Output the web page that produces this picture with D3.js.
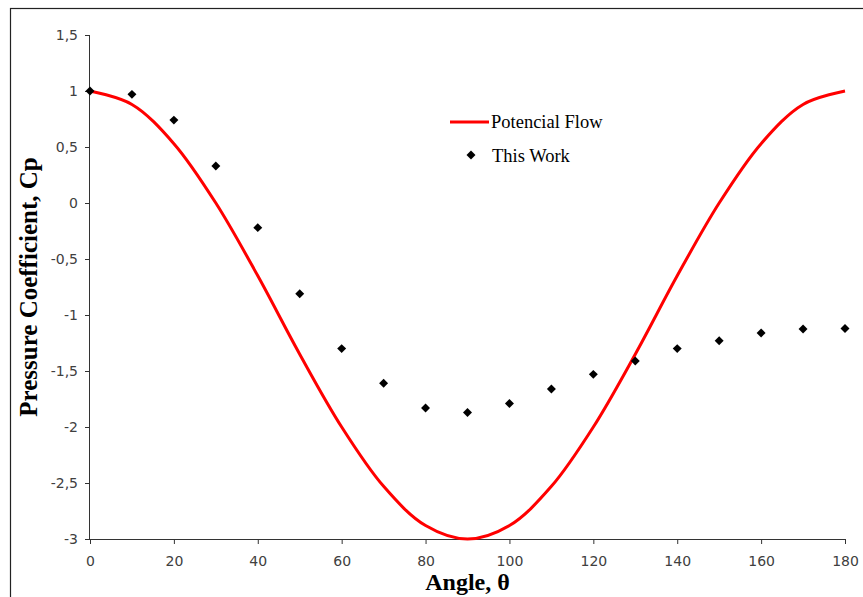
<!DOCTYPE html>
<html>
<head>
<meta charset="utf-8">
<script src="https://cdn.jsdelivr.net/npm/d3@7"></script>
<style>
  body { margin: 0; background: #fff; }
  svg { display: block; }
</style>
</head>
<body>
<script>
// angles every 10 degrees
const angles = [0, 10, 20, 30, 40, 50, 60, 70, 80, 90, 100, 110, 120, 130, 140, 150, 160, 170, 180];
// potencial flow curve
const potentialCp = [1, 0.88, 0.53, 0, -0.65, -1.35, -2, -2.53, -2.88, -3, -2.88, -2.53, -2, -1.35, -0.65, 0, 0.53, 0.88, 1];
// "This Work" markers
const workCp = [1, 0.97, 0.74, 0.33, -0.22, -0.81, -1.30, -1.61, -1.83, -1.87, -1.79, -1.66, -1.53, -1.41, -1.30, -1.23, -1.16, -1.125, -1.12];
const xTicks = [0, 20, 40, 60, 80, 100, 120, 140, 160, 180];
const yTicks = [-3, -2.5, -2, -1.5, -1, -0.5, 0, 0.5, 1, 1.5];

const width = 863, height = 597;
const margin = {top: 35, right: 18, bottom: 58, left: 90};

const svg = d3.select("body").append("svg")
  .attr("width", width)
  .attr("height", height);

// chart frame (only left/top edges visible in the crop)
svg.append("rect")
  .attr("x", 10.5).attr("y", 8.5)
  .attr("width", 1000).attr("height", 1000)
  .attr("fill", "none")
  .attr("stroke", "#222")
  .attr("stroke-width", 1.2);

const x = d3.scaleLinear().domain([0, 180]).range([margin.left, width - margin.right]);
const y = d3.scaleLinear().domain([-3, 1.5]).range([height - margin.bottom, margin.top]);

const fmt = d => String(d).replace(".", ",");

const xAxis = svg.append("g")
  .attr("transform", `translate(0,${y(-3)})`)
  .call(d3.axisBottom(x).tickValues(xTicks).tickSize(5).tickPadding(12).tickFormat(d => d));

const yAxis = svg.append("g")
  .attr("transform", `translate(${x(0)},0)`)
  .call(d3.axisLeft(y).tickValues(yTicks).tickSize(5).tickPadding(7).tickFormat(fmt));

[xAxis, yAxis].forEach(g => {
  g.select(".domain").attr("stroke", "#333").attr("stroke-width", 1);
  g.selectAll(".tick line").attr("stroke", "#333");
  g.selectAll(".tick text")
    .style("font-family", "'DejaVu Sans', sans-serif")
    .style("font-size", "14px")
    .attr("fill", "#404040");
});
// axis lines without the end caps
xAxis.select(".domain").attr("d", `M${x(0)},0.5H${x(180)}`);
yAxis.select(".domain").attr("d", `M-0.5,${y(1.5)}V${y(-3)}`);

// potential flow line
const line = d3.line()
  .x((d, i) => x(angles[i]))
  .y(d => y(d))
  .curve(d3.curveCatmullRom.alpha(0.5));

svg.append("path")
  .datum(potentialCp)
  .attr("d", line)
  .attr("fill", "none")
  .attr("stroke", "#ff0000")
  .attr("stroke-width", 3);

// diamond markers
const diamond = d3.symbol().type(d3.symbolSquare).size(40);
svg.append("g").selectAll("path")
  .data(workCp)
  .join("path")
  .attr("d", diamond)
  .attr("transform", (d, i) => `translate(${x(angles[i])},${y(d)}) rotate(45)`)
  .attr("fill", "#000");

// axis titles
const serif = "'Liberation Serif', 'Times New Roman', serif";
svg.append("text")
  .attr("x", (x(0) + x(180)) / 2)
  .attr("y", 590)
  .attr("text-anchor", "middle")
  .style("font-family", serif)
  .style("font-weight", "bold")
  .style("font-size", "24px")
  .text("Angle, θ");

svg.append("text")
  .attr("transform", `translate(37,${(y(1.5) + y(-3)) / 2}) rotate(-90)`)
  .attr("text-anchor", "middle")
  .style("font-family", serif)
  .style("font-weight", "bold")
  .style("font-size", "25px")
  .text("Pressure Coefficient, Cp");

// legend
const legend = svg.append("g")
  .style("font-family", serif)
  .style("font-size", "18.5px");

legend.append("line")
  .attr("x1", 450).attr("x2", 489)
  .attr("y1", 122).attr("y2", 122)
  .attr("stroke", "#ff0000")
  .attr("stroke-width", 3);
legend.append("text")
  .attr("x", 491).attr("y", 128)
  .text("Potencial Flow");

legend.append("path")
  .attr("d", diamond)
  .attr("transform", "translate(471,155) rotate(45)")
  .attr("fill", "#000");
legend.append("text")
  .attr("x", 492).attr("y", 162)
  .text("This Work");
</script>
</body>
</html>
